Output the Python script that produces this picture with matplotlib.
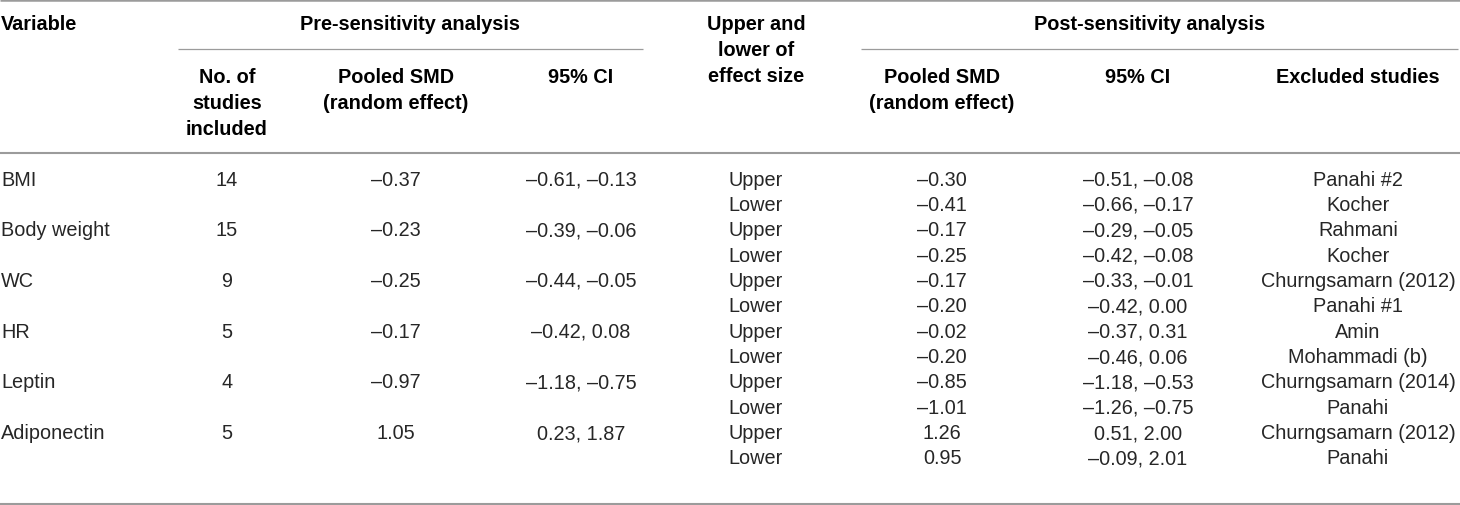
import matplotlib.pyplot as plt

# table contents
variables = ["BMI", "Body weight", "WC", "HR", "Leptin", "Adiponectin"]
n_studies = [14, 15, 9, 5, 4, 5]
pre_smd = [-0.37, -0.23, -0.25, -0.17, -0.97, 1.05]
pre_ci_low = [-0.61, -0.39, -0.44, -0.42, -1.18, 0.23]
pre_ci_high = [-0.13, -0.06, -0.05, 0.08, -0.75, 1.87]

bounds = ["Upper", "Lower"]
post_smd = [-0.30, -0.41, -0.17, -0.25, -0.17, -0.20, -0.02, -0.20, -0.85, -1.01, 1.26, 0.95]
post_ci_low = [-0.51, -0.66, -0.29, -0.42, -0.33, -0.42, -0.37, -0.46, -1.18, -1.26, 0.51, -0.09]
post_ci_high = [-0.08, -0.17, -0.05, -0.08, -0.01, 0.00, 0.31, 0.06, -0.53, -0.75, 2.00, 2.01]
excluded = ["Panahi #2", "Kocher", "Rahmani", "Kocher", "Churngsamarn (2012)", "Panahi #1",
            "Amin", "Mohammadi (b)", "Churngsamarn (2014)", "Panahi", "Churngsamarn (2012)", "Panahi"]

group_headers = ["Pre-sensitivity analysis", "Post-sensitivity analysis"]
col_headers = ["No. of\nstudies\nincluded", "Pooled SMD\n(random effect)", "95% CI",
               "Pooled SMD\n(random effect)", "95% CI", "Excluded studies"]


def fmt(v):
    return f"{v:.2f}".replace("-", "\u2013")


W, H = 1460, 506
fig = plt.figure(figsize=(W / 100, H / 100), dpi=100)
ax = fig.add_axes([0, 0, 1, 1])
ax.set_xlim(0, W)
ax.set_ylim(H, 0)
ax.axis("off")

FONT = "Liberation Sans"
FS = 14.3
body = dict(family=FONT, fontsize=FS, color="#262626", va="center")
head = dict(family=FONT, fontsize=FS, color="black", fontweight="bold", va="center")
line_col = "#9b9b9b"

# column centres (pixels)
x_var = 1
x_n, x_pre_smd, x_pre_ci = 227, 396, 581
x_bound, x_post_smd, x_post_ci, x_excl = 756, 942, 1138, 1358
x_pre_group, x_post_group = 410, 1150

pitch = 26.0


def multiline(x, y0, txt, **kw):
    for i, ln in enumerate(txt.split("\n")):
        ax.text(x, y0 + i * pitch, ln, ha="center", **kw)


# rules
ax.plot([0, W], [1, 1], color=line_col, lw=1.8, solid_capstyle="butt")
ax.plot([178, 643], [50, 50], color=line_col, lw=0.9, solid_capstyle="butt")
ax.plot([861, W - 2], [50, 50], color=line_col, lw=0.9, solid_capstyle="butt")
ax.plot([0, W], [154, 154], color=line_col, lw=1.5, solid_capstyle="butt")
ax.plot([0, W], [504.5, 504.5], color=line_col, lw=1.5, solid_capstyle="butt")

# header
ax.text(x_var, 24, "Variable", ha="left", **head)
ax.text(x_pre_group, 24, group_headers[0], ha="center", **head)
ax.text(x_post_group, 24, group_headers[1], ha="center", **head)
multiline(x_bound, 24, "Upper and\nlower of\neffect size", **head)
for x, txt in zip([x_n, x_pre_smd, x_pre_ci, x_post_smd, x_post_ci, x_excl], col_headers):
    multiline(x, 77.5, txt, **head)

# body rows
y0, dy = 180, 25.36
for i, var in enumerate(variables):
    y = y0 + 2 * i * dy
    ax.text(x_var, y, var, ha="left", **body)
    ax.text(x_n, y, str(n_studies[i]), ha="center", **body)
    ax.text(x_pre_smd, y, fmt(pre_smd[i]), ha="center", **body)
    ax.text(x_pre_ci, y, f"{fmt(pre_ci_low[i])}, {fmt(pre_ci_high[i])}", ha="center", **body)

for j in range(len(post_smd)):
    y = y0 + j * dy
    ax.text(x_bound, y, bounds[j % 2], ha="center", **body)
    ax.text(x_post_smd, y, fmt(post_smd[j]), ha="center", **body)
    ax.text(x_post_ci, y, f"{fmt(post_ci_low[j])}, {fmt(post_ci_high[j])}", ha="center", **body)
    ax.text(x_excl, y, excluded[j], ha="center", **body)

fig.savefig("out.png", dpi=100)
